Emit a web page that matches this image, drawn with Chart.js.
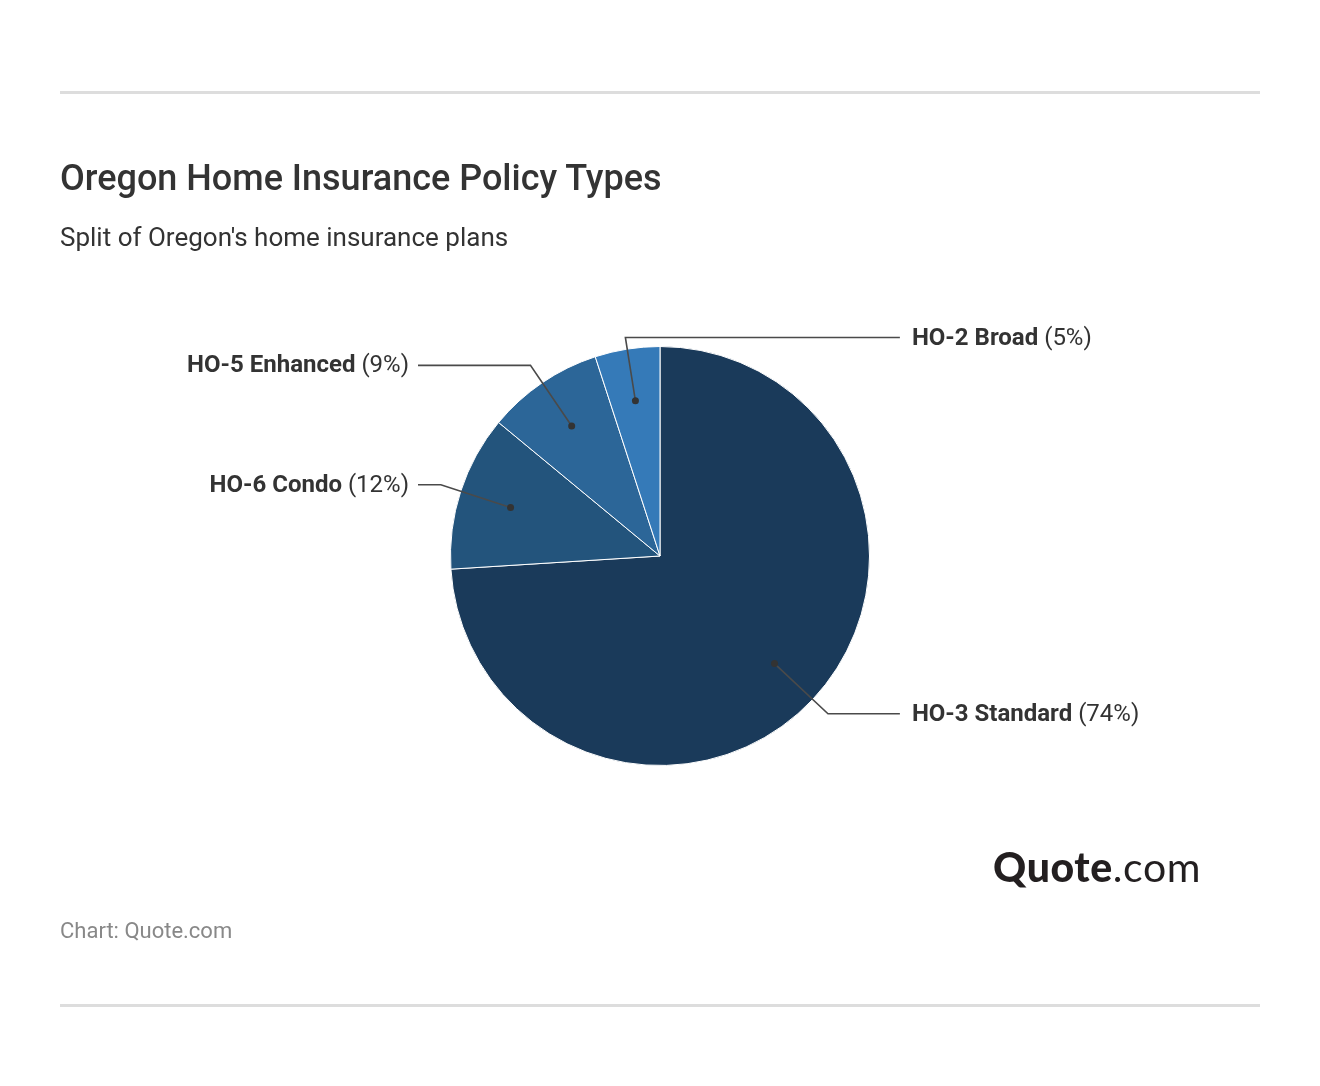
<!DOCTYPE html>
<html>
<head>
<meta charset="utf-8">
<script src="https://cdn.jsdelivr.net/npm/chart.js@4.4.0/dist/chart.umd.min.js"></script>
<style>
  html, body { margin: 0; padding: 0; background: #fff; }
  body { width: 1320px; height: 1086px; position: relative; overflow: hidden; font-family: Roboto, sans-serif; }
  #chart { position: absolute; left: 0; top: 0; width: 1320px; height: 1086px; }
  .rule { position: absolute; left: 60px; width: 1200px; height: 3px; background: #dddddd; }
  .title { position: absolute; left: 60px; top: 156px; font-size: 36px; font-weight: 500; color: #333; margin: 0; line-height: 44px; }
  .subtitle { position: absolute; left: 60px; top: 222px; font-size: 26px; color: #333; line-height: 30px; }
  .source { position: absolute; left: 60px; top: 918px; font-size: 22px; color: #888; line-height: 26px; }
  .logo { position: absolute; left: 993px; top: 842px; font-family: Lato, sans-serif; font-size: 41px; color: #231f20; letter-spacing: 0.6px; }
  .logo b { font-weight: 900; }
</style>
</head>
<body>
<canvas id="chart" width="1320" height="1086"></canvas>
<div class="rule" style="top:91px"></div>
<h1 class="title">Oregon Home Insurance Policy Types</h1>
<div class="subtitle">Split of Oregon's home insurance plans</div>
<div class="logo"><b>Quote</b>.com</div>
<div class="source">Chart: Quote.com</div>
<div class="rule" style="top:1004px"></div>
<script>
const categories = ['HO-3 Standard', 'HO-6 Condo', 'HO-5 Enhanced', 'HO-2 Broad'];
const shares = [74, 12, 9, 5];
const sliceColors = ['#1a3a5a', '#23547c', '#2c6698', '#357ab8'];

// leader lines + labels, placed from each arc's own geometry
const pieLabels = {
  id: 'pieLabels',
  afterDatasetsDraw(chart) {
    const ctx = chart.ctx;
    const meta = chart.getDatasetMeta(0);
    ctx.save();
    meta.data.forEach((arc, i) => {
      const { x, y, startAngle, endAngle, outerRadius } = arc.getProps(['x', 'y', 'startAngle', 'endAngle', 'outerRadius'], true);
      const mid = (startAngle + endAngle) / 2;
      const cos = Math.cos(mid), sin = Math.sin(mid);
      const right = cos >= 0 || Math.abs(cos) < 0.2;
      const dx = x + cos * outerRadius * 0.75, dy = y + sin * outerRadius * 0.75;
      let ex = x + cos * outerRadius * 1.1, ey = y + sin * outerRadius * 1.1;
      // keep the top label from floating too far above the pie
      const minY = y - outerRadius - 9;
      if (ey < minY) {
        const t = (minY - dy) / (ey - dy);
        ex = dx + (ex - dx) * t;
        ey = minY;
      }
      const endX = right ? x + outerRadius * 1.145 : x - outerRadius * 1.155;

      ctx.strokeStyle = '#4a4a4a';
      ctx.lineWidth = 1.6;
      ctx.beginPath();
      ctx.moveTo(dx, dy);
      ctx.lineTo(ex, ey);
      ctx.lineTo(endX, ey);
      ctx.stroke();

      ctx.fillStyle = '#333';
      ctx.beginPath();
      ctx.arc(dx, dy, 3.5, 0, Math.PI * 2);
      ctx.fill();

      const name = categories[i];
      const pct = ' (' + shares[i] + '%)';
      ctx.textBaseline = 'middle';
      ctx.font = 'bold 24px Roboto';
      const w1 = ctx.measureText(name).width;
      ctx.font = '24px Roboto';
      const w2 = ctx.measureText(pct).width;
      const tx = right ? endX + 12 : endX - 9 - w1 - w2;
      ctx.fillStyle = '#333';
      ctx.font = 'bold 24px Roboto';
      ctx.textAlign = 'left';
      ctx.fillText(name, tx, ey + 1);
      ctx.font = '24px Roboto';
      ctx.fillText(pct, tx + w1, ey + 1);
    });
    ctx.restore();
  }
};

new Chart(document.getElementById('chart'), {
  type: 'pie',
  data: {
    labels: categories,
    datasets: [{
      data: shares,
      backgroundColor: sliceColors,
      borderColor: '#ffffff',
      borderWidth: 1
    }]
  },
  options: {
    responsive: false,
    animation: false,
    layout: { padding: { left: 450, right: 450, top: 346, bottom: 320 } },
    plugins: { legend: { display: false }, tooltip: { enabled: false } }
  },
  plugins: [pieLabels]
});
</script>
</body>
</html>
